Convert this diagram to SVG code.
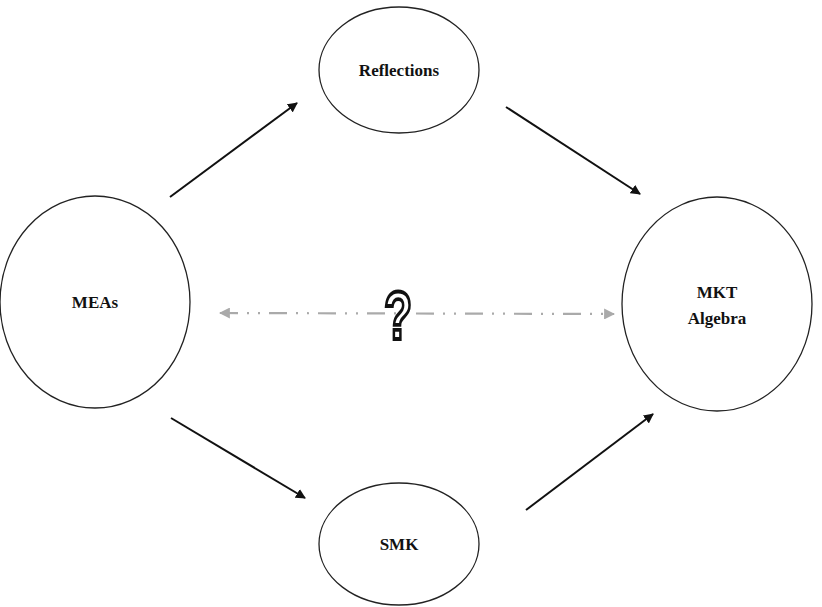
<svg xmlns="http://www.w3.org/2000/svg" width="822" height="607" viewBox="0 0 822 607">
<style>
.node{fill:#fff;stroke:#222;stroke-width:1.3}
.lbl{font-family:"Liberation Serif",serif;font-weight:bold;font-size:17px;fill:#111;text-anchor:middle}
.arr{stroke:#111;stroke-width:2;fill:none;marker-end:url(#ah)}
.dash{stroke:#aaa;stroke-width:2.2;fill:none;stroke-dasharray:18 9 2 9 2 9;marker-start:url(#gs);marker-end:url(#ge)}
</style>
<defs>
<marker id="ah" viewBox="0 0 10 10" refX="9" refY="5" markerWidth="5" markerHeight="5" orient="auto"><path d="M0,0 L10,5 L0,10 z" fill="#111"/></marker>
<marker id="ge" viewBox="0 0 10 10" refX="9" refY="5" markerWidth="5" markerHeight="5" orient="auto"><path d="M0,0 L10,5 L0,10 z" fill="#aaa"/></marker>
<marker id="gs" viewBox="0 0 10 10" refX="1" refY="5" markerWidth="5" markerHeight="5" orient="auto"><path d="M10,0 L0,5 L10,10 z" fill="#aaa"/></marker>
</defs>
<rect width="822" height="607" fill="#fff"/>
<g id="connectors">
<line class="arr" x1="170" y1="197" x2="297" y2="103"/>
<line class="arr" x1="506" y1="107" x2="640" y2="194"/>
<line class="arr" x1="171" y1="418" x2="305" y2="498"/>
<line class="arr" x1="526" y1="510" x2="653" y2="414"/>
<line class="dash" x1="220" y1="313" x2="614" y2="314"/>
</g>
<g id="reflections"><ellipse class="node" cx="399" cy="70" rx="80" ry="63"/><text class="lbl" x="399" y="76">Reflections</text></g>
<g id="smk"><ellipse class="node" cx="399" cy="544" rx="80" ry="61"/><text class="lbl" x="399" y="550">SMK</text></g>
<g id="meas"><ellipse class="node" cx="95" cy="302" rx="95" ry="106"/><text class="lbl" x="95" y="308">MEAs</text></g>
<g id="mkt"><ellipse class="node" cx="717" cy="304" rx="95" ry="107"/><text class="lbl" x="717" y="298">MKT</text><text class="lbl" x="717" y="324">Algebra</text></g>
<g id="question"><text x="0" y="0" transform="translate(398,339) scale(0.7,1.05)" font-family="Liberation Sans,sans-serif" font-weight="bold" font-size="66" text-anchor="middle" fill="#fff" stroke="#111" stroke-width="3.6">?</text></g>
</svg>
